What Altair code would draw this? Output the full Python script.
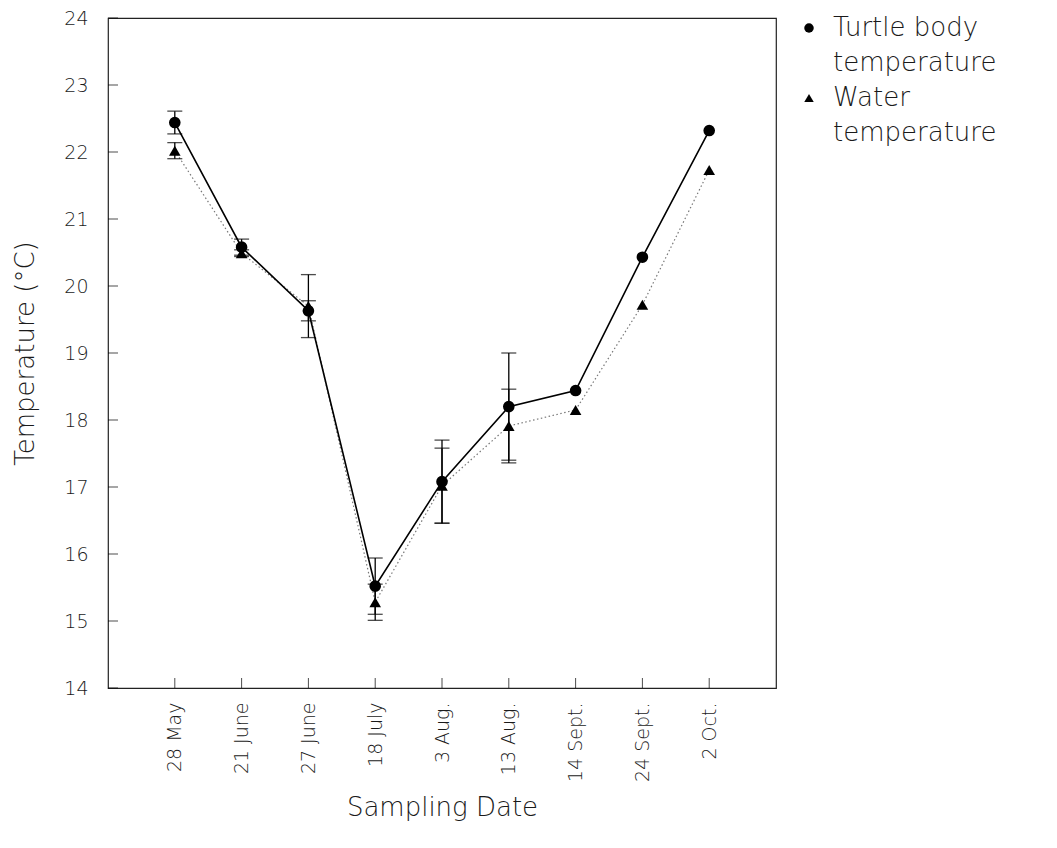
import altair as alt
import pandas as pd

dates = ["28 May", "21 June", "27 June", "18 July", "3 Aug.", "13 Aug.",
         "14 Sept.", "24 Sept.", "2 Oct."]
turtle = [22.44, 20.58, 19.63, 15.52, 17.08, 18.20, 18.44, 20.43, 22.32]
turtle_err = [0.17, 0.12, 0.15, 0.42, 0.62, 0.80, 0.0, 0.0, 0.0]
water = [22.02, 20.49, 19.70, 15.28, 17.02, 17.91, 18.15, 19.72, 21.73]
water_err = [0.12, 0.05, 0.47, 0.27, 0.56, 0.55, 0.0, 0.0, 0.0]
y_ticks = [14, 15, 16, 17, 18, 19, 20, 21, 22, 23, 24]

series_names = ["Turtle body|\u2002temperature", "Water|\u2002temperature"]

rows = []
for i, d in enumerate(dates):
    rows.append({"date": d, "series": series_names[0], "t": turtle[i],
                 "lo": turtle[i] - turtle_err[i], "hi": turtle[i] + turtle_err[i],
                 "err": turtle_err[i]})
    rows.append({"date": d, "series": series_names[1], "t": water[i],
                 "lo": water[i] - water_err[i], "hi": water[i] + water_err[i],
                 "err": water_err[i]})
df = pd.DataFrame(rows)
ticks_df = pd.DataFrame({"v": y_ticks})
dates_df = pd.DataFrame({"date": dates})

FONT = "DejaVu Sans"
TXT = "#1a1a1a"

x_enc = alt.X("date:N", sort=dates,
              scale=alt.Scale(type="point", padding=1),
              axis=alt.Axis(title="Sampling Date", labelAngle=270, labelAlign="right",
                            labelBaseline="middle", labelPadding=14, ticks=False,
                            domain=False, labelFontSize=19, titleFontSize=26,
                            titlePadding=13, labelFont=FONT, titleFont=FONT,
                            labelColor=TXT, titleColor=TXT,
                            titleFontWeight=200, labelFontWeight=200))
y_scale = alt.Scale(domain=[14, 24], nice=False, zero=False)
y_enc = alt.Y("t:Q", scale=y_scale,
              axis=alt.Axis(title="Temperature (°C)", values=y_ticks, format="d",
                            ticks=False, domain=False, grid=False, labelPadding=20,
                            labelFontSize=19, titleFontSize=26, titlePadding=25,
                            labelFont=FONT, titleFont=FONT, labelColor=TXT,
                            titleColor=TXT, titleFontWeight=200,
                            labelFontWeight=200))

base = alt.Chart(df)

turtle_line = base.transform_filter(alt.datum.series == series_names[0]).mark_line(
    color="black", strokeWidth=1.6).encode(x=x_enc, y=y_enc)
water_line = base.transform_filter(alt.datum.series == series_names[1]).mark_line(
    color="#777", strokeWidth=1.2, strokeDash=[1.5, 2.5]).encode(x=x_enc, y=y_enc)

err_df = base.transform_filter(alt.datum.err > 0)
err_rule = err_df.mark_rule(color="black", strokeWidth=1.3).encode(
    x=alt.X("date:N", sort=dates), y=alt.Y("lo:Q", scale=y_scale), y2="hi:Q")
cap_lo = err_df.mark_tick(color="black", orient="horizontal", size=15,
                          thickness=1.3).encode(
    x=alt.X("date:N", sort=dates), y=alt.Y("lo:Q", scale=y_scale))
cap_hi = err_df.mark_tick(color="black", orient="horizontal", size=15,
                          thickness=1.3).encode(
    x=alt.X("date:N", sort=dates), y=alt.Y("hi:Q", scale=y_scale))

points = base.mark_point(filled=True, opacity=1, color="black", size=135).encode(
    x=alt.X("date:N", sort=dates),
    y=alt.Y("t:Q", scale=y_scale),
    shape=alt.Shape("series:N",
                    scale=alt.Scale(domain=series_names, range=["circle", "triangle-up"]),
                    legend=alt.Legend(title=None, orient="none", legendX=688, legendY=-3,
                                      labelExpr="split(datum.label, '|')",
                                      labelFontSize=26, labelFont=FONT,
                                      labelFontWeight=200, labelColor=TXT,
                                      symbolFillColor="black", symbolStrokeColor="black",
                                      symbolSize=90, rowPadding=9, labelOffset=11,
                                      labelLimit=300)),
)

x_ticks = alt.Chart(dates_df).mark_tick(orient="vertical", size=10, thickness=1,
                                         color="black").encode(
    x=alt.X("date:N", sort=dates), y=alt.value(665))
y_tick_marks = alt.Chart(ticks_df).mark_tick(orient="horizontal", size=10, thickness=1,
                                              color="black").encode(
    y=alt.Y("v:Q", scale=y_scale), x=alt.value(5))

chart = alt.layer(x_ticks, y_tick_marks, water_line, turtle_line, err_rule, cap_lo,
                  cap_hi, points).properties(
    width=668, height=670,
    autosize=alt.AutoSizeParams(type="none"),
    padding={"left": 100, "top": 10, "right": 273, "bottom": 150},
    background="white",
).configure(
    style={"guide-label": {"lineHeight": 35}},
    view={"stroke": "#222", "strokeWidth": 1.2},
)

chart.save("out.html", embed_options={"renderer": "svg", "actions": False})
